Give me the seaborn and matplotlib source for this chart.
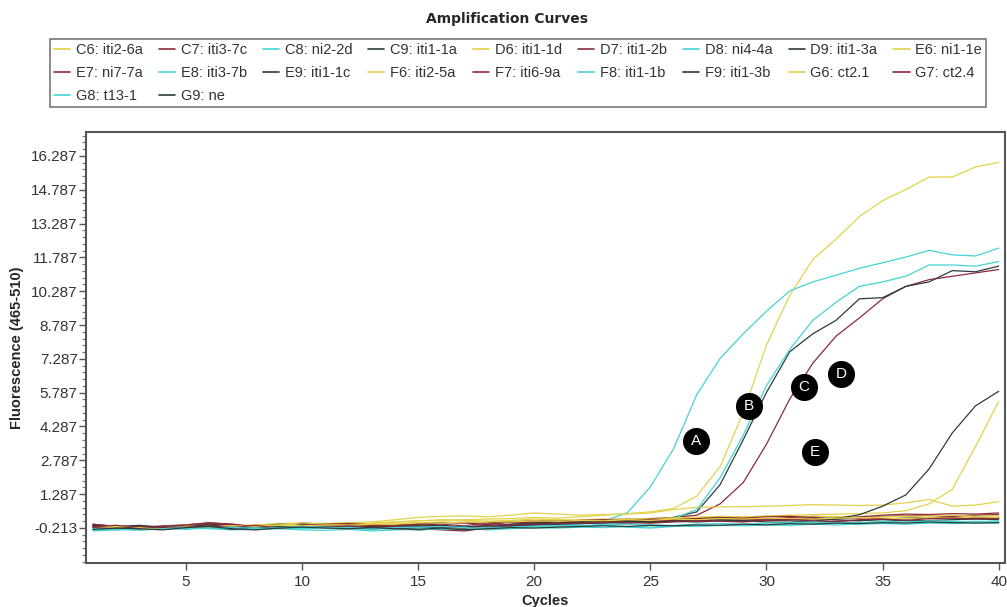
import matplotlib
matplotlib.use("Agg")
import matplotlib.pyplot as plt
from matplotlib.lines import Line2D
from matplotlib.ticker import FixedLocator, AutoMinorLocator
import numpy as np
import pandas as pd
import seaborn as sns

# ---- data -------------------------------------------------------------
cycles = list(range(1, 41))

samples = ["C6: iti2-6a", "C7: iti3-7c", "C8: ni2-2d", "C9: iti1-1a", "D6: iti1-1d",
           "D7: iti1-2b", "D8: ni4-4a", "D9: iti1-3a", "E6: ni1-1e", "E7: ni7-7a",
           "E8: iti3-7b", "E9: iti1-1c", "F6: iti2-5a", "F7: iti6-9a", "F8: iti1-1b",
           "F9: iti1-3b", "G6: ct2.1", "G7: ct2.4", "G8: t13-1", "G9: ne"]

c6 = [-0.15, -0.20, -0.25, -0.15, -0.10, -0.12, -0.18, -0.10, -0.05, -0.08,
      -0.05, -0.02, 0.00, 0.05, 0.10, 0.12, 0.15, 0.18, 0.20, 0.25,
      0.22, 0.28, 0.35, 0.42, 0.50, 0.65, 1.20, 2.50, 4.90, 7.90,
      10.10, 11.70, 12.60, 13.60, 14.30, 14.80, 15.35, 15.35, 15.80, 16.00]
c7 = [-0.05, -0.15, -0.20, -0.12, -0.08, 0.02, -0.05, -0.18, -0.10, 0.00,
      -0.05, -0.08, -0.12, -0.05, 0.00, -0.10, -0.20, -0.05, 0.05, 0.08,
      0.10, 0.12, 0.15, 0.18, 0.20, 0.25, 0.35, 0.85, 1.80, 3.50,
      5.50, 7.10, 8.30, 9.10, 9.95, 10.50, 10.80, 10.95, 11.10, 11.25]
c8 = [-0.30, -0.25, -0.20, -0.25, -0.18, -0.20, -0.28, -0.22, -0.15, -0.20,
      -0.18, -0.15, -0.22, -0.25, -0.20, -0.15, -0.18, -0.22, -0.15, -0.10,
      -0.08, -0.05, 0.10, 0.45, 1.60, 3.30, 5.70, 7.30, 8.40, 9.40,
      10.30, 10.70, 11.00, 11.30, 11.55, 11.80, 12.10, 11.90, 11.85, 12.20]
c9 = [-0.10, -0.20, -0.15, -0.22, -0.10, -0.05, -0.15, -0.20, -0.10, -0.05,
      -0.12, -0.08, -0.15, -0.20, -0.12, -0.10, -0.25, -0.15, -0.10, -0.05,
      0.00, 0.05, 0.10, 0.08, 0.15, 0.25, 0.50, 1.70, 3.70, 5.80,
      7.60, 8.40, 9.00, 9.95, 10.00, 10.50, 10.70, 11.20, 11.15, 11.40]
d6 = [-0.15, -0.10, -0.20, -0.15, -0.08, -0.05, -0.12, -0.08, -0.02, 0.00,
      -0.02, 0.02, 0.05, 0.15, 0.25, 0.30, 0.32, 0.28, 0.35, 0.45,
      0.40, 0.35, 0.38, 0.40, 0.45, 0.60, 0.70, 0.72, 0.73, 0.75,
      0.78, 0.82, 0.80, 0.78, 0.80, 0.90, 1.05, 0.75, 0.80, 0.95]
d7 = [-0.10, -0.22, -0.18, -0.25, -0.15, -0.05, -0.08, -0.20, -0.12, -0.05,
      -0.10, -0.10, -0.15, -0.08, -0.02, -0.05, -0.12, 0.02, 0.05, 0.00,
      0.08, 0.05, 0.12, 0.15, 0.18, 0.20, 0.22, 0.25, 0.20, 0.18,
      0.25, 0.30, 0.28, 0.22, 0.30, 0.32, 0.35, 0.30, 0.35, 0.38]
d8 = [-0.25, -0.30, -0.22, -0.18, -0.25, -0.20, -0.15, -0.22, -0.25, -0.18,
      -0.20, -0.25, -0.28, -0.22, -0.18, -0.20, -0.15, -0.12, -0.18, -0.15,
      -0.10, -0.12, -0.05, 0.00, 0.05, 0.20, 0.60, 2.00, 3.90, 6.10,
      7.70, 9.00, 9.80, 10.50, 10.70, 10.95, 11.45, 11.45, 11.40, 11.60]
d9 = [-0.20, -0.15, -0.10, -0.18, -0.12, -0.05, -0.22, -0.15, -0.05, -0.08,
      -0.12, -0.15, -0.25, -0.20, -0.15, -0.22, -0.28, -0.15, -0.05, 0.00,
      -0.02, 0.05, 0.08, 0.05, 0.10, 0.15, 0.12, 0.18, 0.15, 0.12,
      0.18, 0.22, 0.15, 0.10, 0.18, 0.22, 0.25, 0.20, 0.22, 0.25]
e6 = [-0.22, -0.15, -0.18, -0.28, -0.20, -0.15, -0.22, -0.18, -0.12, -0.15,
      -0.10, -0.12, -0.08, -0.05, 0.00, 0.05, 0.02, 0.05, 0.10, 0.08,
      0.12, 0.15, 0.18, 0.15, 0.20, 0.22, 0.25, 0.30, 0.28, 0.32,
      0.35, 0.38, 0.40, 0.42, 0.45, 0.55, 0.85, 1.50, 3.40, 5.40]
e7 = [-0.05, -0.15, -0.28, -0.20, -0.22, -0.10, -0.18, -0.25, -0.15, -0.12,
      -0.20, -0.15, -0.10, -0.18, -0.25, -0.30, -0.35, -0.20, -0.10, -0.05,
      0.00, 0.02, 0.05, 0.00, 0.08, 0.12, 0.10, 0.15, 0.12, 0.20,
      0.18, 0.15, 0.22, 0.25, 0.20, 0.18, 0.25, 0.28, 0.22, 0.25]
e8 = [-0.35, -0.30, -0.25, -0.28, -0.22, -0.25, -0.30, -0.28, -0.25, -0.30,
      -0.32, -0.28, -0.35, -0.30, -0.25, -0.28, -0.22, -0.30, -0.25, -0.20,
      -0.22, -0.18, -0.20, -0.15, -0.18, -0.12, -0.15, -0.10, -0.12, -0.08,
      -0.10, -0.05, -0.08, -0.05, -0.02, -0.05, 0.00, -0.02, 0.02, 0.00]
e9 = [-0.10, -0.18, -0.22, -0.15, -0.10, -0.15, -0.28, -0.20, -0.12, -0.05,
      -0.10, -0.12, -0.18, -0.22, -0.30, -0.25, -0.20, -0.15, -0.12, -0.08,
      -0.05, -0.02, 0.00, 0.05, 0.02, 0.08, 0.05, 0.10, 0.08, 0.12,
      0.10, 0.05, 0.08, 0.12, 0.15, 0.10, 0.12, 0.15, 0.18, 0.15]
f6 = [-0.20, -0.15, -0.25, -0.18, -0.12, -0.10, -0.15, -0.12, -0.08, -0.05,
      -0.08, -0.05, -0.02, 0.05, 0.10, 0.15, 0.12, 0.08, 0.12, 0.18,
      0.15, 0.12, 0.15, 0.18, 0.20, 0.22, 0.25, 0.28, 0.25, 0.30,
      0.32, 0.28, 0.30, 0.25, 0.28, 0.30, 0.32, 0.35, 0.30, 0.32]
f7 = [-0.15, -0.10, -0.20, -0.15, -0.08, 0.00, -0.05, -0.15, -0.18, -0.08,
      -0.05, -0.02, -0.08, -0.12, -0.05, 0.02, 0.00, -0.05, 0.05, 0.10,
      0.08, 0.12, 0.15, 0.10, 0.18, 0.15, 0.20, 0.25, 0.22, 0.28,
      0.30, 0.25, 0.20, 0.28, 0.35, 0.40, 0.38, 0.42, 0.40, 0.45]
f8 = [-0.30, -0.25, -0.20, -0.22, -0.28, -0.20, -0.25, -0.18, -0.22, -0.25,
      -0.20, -0.18, -0.22, -0.28, -0.30, -0.25, -0.22, -0.18, -0.20, -0.15,
      -0.12, -0.15, -0.10, -0.18, -0.22, -0.15, -0.12, -0.10, -0.08, -0.05,
      -0.08, -0.02, 0.00, 0.02, -0.02, 0.05, 0.02, 0.05, 0.08, 0.05]
f9 = [-0.18, -0.22, -0.12, -0.20, -0.15, -0.08, -0.18, -0.25, -0.15, -0.10,
      -0.15, -0.10, -0.20, -0.15, -0.08, -0.12, -0.18, -0.10, -0.05, 0.00,
      0.05, 0.02, 0.08, 0.10, 0.05, 0.08, 0.12, 0.15, 0.10, 0.05,
      0.02, 0.08, 0.20, 0.37, 0.75, 1.25, 2.40, 4.00, 5.20, 5.85]
g6 = [-0.22, -0.18, -0.20, -0.25, -0.15, -0.18, -0.12, -0.15, -0.10, -0.12,
      -0.08, -0.10, -0.05, -0.02, 0.02, 0.00, 0.05, 0.08, 0.05, 0.10,
      0.08, 0.12, 0.10, 0.15, 0.12, 0.18, 0.15, 0.20, 0.18, 0.22,
      0.20, 0.18, 0.22, 0.25, 0.22, 0.20, 0.25, 0.22, 0.28, 0.25]
g7 = [-0.20, -0.25, -0.15, -0.22, -0.18, -0.12, -0.20, -0.10, -0.22, -0.15,
      -0.18, -0.12, -0.20, -0.15, -0.10, -0.18, -0.22, -0.12, -0.08, -0.05,
      -0.02, 0.00, 0.05, 0.02, 0.00, 0.05, 0.10, 0.08, 0.05, 0.12,
      0.15, 0.10, 0.08, 0.15, 0.18, 0.12, 0.20, 0.22, 0.18, 0.20]
g8 = [-0.25, -0.28, -0.32, -0.25, -0.20, -0.22, -0.18, -0.25, -0.20, -0.15,
      -0.18, -0.22, -0.25, -0.20, -0.18, -0.15, -0.20, -0.25, -0.22, -0.18,
      -0.15, -0.12, -0.10, -0.05, -0.08, -0.10, -0.05, -0.02, -0.05, 0.00,
      0.02, 0.05, 0.00, 0.02, 0.08, 0.05, 0.10, 0.08, 0.05, 0.10]
g9 = [-0.28, -0.22, -0.25, -0.30, -0.20, -0.15, -0.25, -0.30, -0.22, -0.18,
      -0.22, -0.25, -0.20, -0.25, -0.28, -0.22, -0.30, -0.25, -0.20, -0.22,
      -0.18, -0.15, -0.12, -0.15, -0.10, -0.12, -0.08, -0.10, -0.05, -0.08,
      -0.02, -0.05, 0.00, -0.02, 0.02, 0.00, 0.05, 0.02, 0.00, 0.02]

series = [c6, c7, c8, c9, d6, d7, d8, d9, e6, e7, e8, e9, f6, f7, f8, f9, g6, g7, g8, g9]

y_ticks = [-0.213, 1.287, 2.787, 4.287, 5.787, 7.287, 8.787, 10.287, 11.787, 13.287, 14.787, 16.287]
x_ticks = [5, 10, 15, 20, 25, 30, 35, 40]

marker_labels = ["A", "B", "C", "D", "E"]
marker_x = [26.95, 29.25, 31.62, 33.23, 32.08]
marker_y = [3.63, 5.20, 6.02, 6.62, 3.15]

# ---- styling ----------------------------------------------------------
col_colors = {"6": "#e3d24a", "7": "#8c2a3a", "8": "#45d3d3", "9": "#2d3c3c"}
palette = {s: col_colors[s[1]] for s in samples}

df = pd.DataFrame({
    "Cycle": np.tile(cycles, len(samples)),
    "Fluorescence": np.concatenate(series),
    "Sample": np.repeat(samples, len(cycles)),
})

sns.set_style("white")
plt.rcParams["font.family"] = ["Liberation Sans", "DejaVu Sans"]

fig = plt.figure(figsize=(10.07, 6.07), dpi=100)
ax = fig.add_axes([86 / 1007, 1 - 563 / 607, (1005 - 86) / 1007, (563 - 132) / 607])

sns.lineplot(data=df, x="Cycle", y="Fluorescence", hue="Sample", hue_order=samples,
             palette=palette, linewidth=0.9, legend=False, ax=ax)

ax.set_xlim(0.7, 40.27)
ax.set_ylim(-1.77, 17.35)
ax.xaxis.set_major_locator(FixedLocator(x_ticks))
ax.yaxis.set_major_locator(FixedLocator(y_ticks))
ax.set_yticklabels([f"{v:.3f}" for v in y_ticks])
ax.set_xticklabels([str(v) for v in x_ticks])
ax.yaxis.set_minor_locator(AutoMinorLocator(5))
ax.tick_params(axis="both", which="major", direction="out", length=5, width=1,
               color="#555555", labelsize=11, labelcolor="#333333")
ax.tick_params(axis="y", which="major", pad=1)
ax.tick_params(axis="x", which="major", pad=4)
ax.tick_params(axis="y", which="minor", direction="out", length=3, width=0.8,
               color="#777777", left=True)
ax.tick_params(axis="x", bottom=True)
ax.tick_params(axis="y", left=True)
for sp in ax.spines.values():
    sp.set_color("#555555")
    sp.set_linewidth(1.5)

ax.set_xlabel("Cycles", fontsize=10.5, fontweight="bold", labelpad=3)
ax.set_ylabel("Fluorescence (465-510)", fontsize=10.5, fontweight="bold", labelpad=5)

# labelled markers
ax.scatter(marker_x, marker_y, s=380, color="black", zorder=6, linewidths=0)
for lab, mx, my in zip(marker_labels, marker_x, marker_y):
    ax.text(mx, my, lab, color="white", fontsize=11, ha="center", va="center", zorder=7)

fig.text(0.503, 1 - 19 / 607, "Amplification Curves", ha="center", va="center",
         fontsize=10, fontweight="bold", family="DejaVu Sans")

# legend laid out row by row across nine columns
ncol = 9
order = [i for c in range(ncol) for i in range(c, len(samples), ncol)]
handles = [Line2D([], [], color=palette[samples[i]], linewidth=1.2) for i in order]
labels = [samples[i] for i in order]
leg = fig.legend(handles, labels, ncol=ncol, loc="center",
                 bbox_to_anchor=(518 / 1007, 1 - 73 / 607),
                 fontsize=10.5, frameon=True, fancybox=False, edgecolor="#555555",
                 handlelength=1.1, handletextpad=0.4, columnspacing=1.1,
                 labelspacing=0.62, borderpad=0.25, borderaxespad=0)
leg.get_frame().set_linewidth(1.2)
for t in leg.get_texts():
    t.set_color("#333333")

fig.savefig("out.png", dpi=100)
